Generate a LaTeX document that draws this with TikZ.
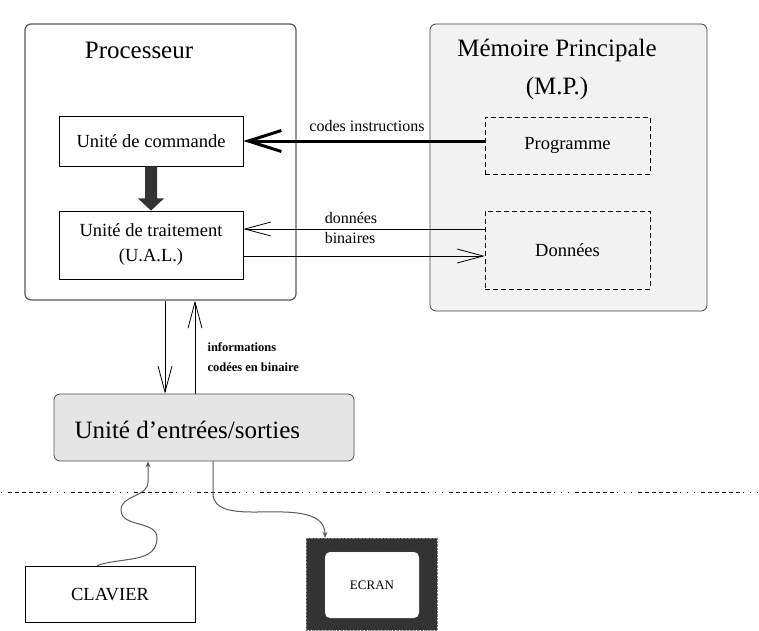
\documentclass[tikz,border=0pt]{standalone}
\usepackage{fontspec}
\setmainfont{Liberation Serif}
\usetikzlibrary{arrows.meta,calc}
\begin{document}
\begin{tikzpicture}[x=1pt,y=-1pt,
  box/.style={draw, line width=0.8pt, inner sep=0pt},
  big/.style={font=\fontsize{25}{30}\selectfont},
  med/.style={font=\fontsize{18.5}{25}\selectfont},
  lab/.style={font=\fontsize{16}{20}\selectfont},
  dbox/.style={box, dash pattern=on 5pt off 3pt},
  barb/.style={line width=0.8pt, -{Straight Barb[length=26pt,width=14pt]}},
  wavy/.style={draw=black!65, line width=1pt, -{Stealth[length=6pt,width=5pt]}},
]
\useasboundingbox (0,0) rectangle (759,630);
% main boxes
\node[box, rounded corners=6pt, draw=black!65, line width=1.2pt, minimum width=271pt, minimum height=276pt] (proc) at (160.5,162) {};
\node[big] (proct) at (139,50) {Processeur};
\node[box, rounded corners=6pt, draw=black!75, fill=black!5, minimum width=277pt, minimum height=287pt] (mem) at (568.5,167.5) {};
\node[big] (memt) at (557,50) {Mémoire Principale};
\node[big] (mpt) at (557,88) {(M.P.)};
\node[box, med, minimum width=184pt, minimum height=50pt] (cmd) at (151,141) {Unité de commande};
\node[box, med, align=center, minimum width=184pt, minimum height=68pt] (trt) at (151,245) {Unité de traitement\\(U.A.L.)};
\node[dbox, med, minimum width=165pt, minimum height=57pt] (prog) at (567.5,145.5) {Programme};
\node[dbox, med, minimum width=165pt, minimum height=78pt] (don) at (567.5,250) {Données};
\node[box, rounded corners=6pt, draw=black!70, fill=black!10, minimum width=300pt, minimum height=67pt] (es) at (204,427.5) {};
\node[big, anchor=west] (est) at (71,430) {Unité d’entrées/sorties};
\node[box, med, minimum width=170pt, minimum height=56pt] (clav) at (110,594) {CLAVIER};
\node[draw=black!50, densely dotted, fill=black!80, minimum width=131pt, minimum height=92pt] (ecr) at (371.5,584) {};
\node[draw=black!40, densely dotted, fill=white, rounded corners=5pt, minimum width=94pt, minimum height=66pt, font=\fontsize{13}{15}\selectfont] (ecrt) at (372,585) {ECRAN};
% thick block arrow
\fill[black!80] ($(cmd.south)+(-6,0)$) -- ($(cmd.south)+(6,0)$) -- ($(cmd.south)+(6,32)$) -- ($(cmd.south)+(13,32)$) -- (trt.north) -- ($(cmd.south)+(-13,32)$) -- ($(cmd.south)+(-6,32)$) -- cycle;
% codes instructions
\draw[line width=3pt, -{Straight Barb[length=33pt,width=21pt]}] (prog.west |- cmd.east) -- (cmd.east);
\node[lab] (codest) at (367,126) {codes instructions};
% donnees binaires
\draw[barb] (don.west |- 0,229) coordinate (d1) -- (trt.east |- d1);
\draw[barb] ([yshift=-11pt]trt.east) -- (don.west |- 0,256);
\node[lab, align=left] (dbt) at (351,228) {données\\binaires};
% vertical arrows
\draw[barb] ([xshift=4.5pt]proc.south) -- ([xshift=4.5pt]proc.south |- es.north);
\draw[barb] ([xshift=34.5pt]proc.south |- es.north) -- ([xshift=34.5pt]proc.south);
\node[font=\bfseries\fontsize{12.5}{20}\selectfont, align=left, anchor=west] (info) at (204,357) {informations\\codées en binaire};
% dotted separator
\coordinate (dl) at (0,492);
\coordinate (dr) at (759,492);
\draw[line width=1pt, dash pattern=on 4pt off 3pt on 4pt off 3pt on 4pt off 3pt on 4pt off 3pt on 4pt off 3pt on 4pt off 3pt on 1.2pt off 5.8pt on 1.2pt off 5.8pt on 1.2pt off 5.8pt, dash phase=-8pt] (dl) -- (dr);
% wavy connectors
\draw[wavy] ([xshift=-13pt]clav.north) to[out=20,in=-90] (157,538) to[out=90,in=-90] (121,510) to[out=90,in=-90] (148,482) -- ([xshift=-56pt]es.south);
\draw[wavy] ([xshift=9pt]es.south) -- ++(0,32) to[out=-90,in=180] (255,512) to[out=0,in=90] ([xshift=-46.5pt]ecr.north);
\end{tikzpicture}
\end{document}
